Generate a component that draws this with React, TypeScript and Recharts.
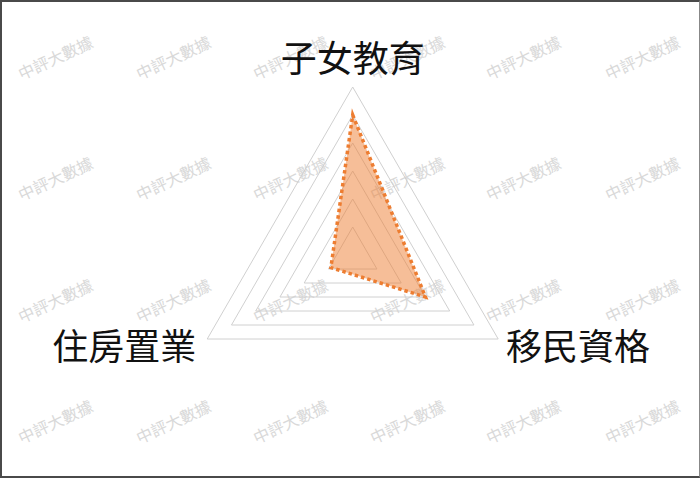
import React from 'react';
import { RadarChart, Radar, PolarGrid, PolarAngleAxis, PolarRadiusAxis } from 'recharts';

const categories = ['子女教育', '移民資格', '住房置業'];
const scores = [5, 3, 0.9];
const radiusDomain = [0, 6];
const radiusTickCount = 7;

const watermarkText = '中評大數據';
const watermarkCols = [55, 173, 290, 407, 523, 642];
const watermarkRows = [57, 178, 300, 421];

const data = categories.map((name, i) => ({ name, value: scores[i] }));

const labelFont = '"Noto Sans CJK TC", "Noto Sans CJK SC", sans-serif';

const AngleTick = (props: any) => {
  const { x, y, payload, textAnchor } = props;
  let dx = 0;
  let dy = 1;
  if (textAnchor === 'middle') dy = -23;
  if (textAnchor === 'start') dx = 1;
  if (textAnchor === 'end') dx = -4;
  return (
    <text
      x={x + dx}
      y={y + dy}
      textAnchor={textAnchor}
      dominantBaseline="central"
      fontSize={36}
      fontFamily={labelFont}
      fill="#111"
    >
      {payload.value}
    </text>
  );
};

export default function App() {
  return (
    <div
      style={{
        position: 'absolute',
        left: 0,
        top: 0,
        width: 700,
        height: 478,
        boxSizing: 'border-box',
        borderTop: '2px solid #4a4a4a',
        borderLeft: '2px solid #4a4a4a',
        borderBottom: '2px solid #4a4a4a',
        borderRight: '1px solid #888',
        background: '#fff',
        overflow: 'hidden',
      }}
    >
      {/* watermark sits under the chart, the fill is half transparent */}
      <svg width={700} height={478} style={{ position: 'absolute', left: -2, top: -2 }}>
        {watermarkRows.map((wy) =>
          watermarkCols.map((wx) => (
            <text
              key={`${wx}-${wy}`}
              x={wx}
              y={wy}
              transform={`rotate(-25 ${wx} ${wy})`}
              textAnchor="middle"
              dominantBaseline="central"
              fontSize={16}
              fontFamily={labelFont}
              fill="#d9d9d9"
            >
              {watermarkText}
            </text>
          ))
        )}
      </svg>
      <div style={{ position: 'absolute', left: -2, top: -2 }}>
        <RadarChart
          width={700}
          height={478}
          data={data}
          cx={352.7}
          cy={255}
          outerRadius={168}
          startAngle={90}
          endAngle={-270}
          margin={{ top: 0, right: 0, bottom: 0, left: 0 }}
        >
          <PolarGrid gridType="polygon" radialLines={false} stroke="#d0d0d0" strokeWidth={1} />
          <PolarRadiusAxis
            domain={radiusDomain}
            tickCount={radiusTickCount}
            axisLine={false}
            tick={false}
          />
          <PolarAngleAxis dataKey="name" axisLine={false} tickLine={false} tick={<AngleTick />} />
          <Radar
            dataKey="value"
            fill="#ED7D31"
            fillOpacity={0.5}
            stroke="#ED7D31"
            strokeWidth={3.5}
            strokeDasharray="3.5 3"
            isAnimationActive={false}
          />
        </RadarChart>
      </div>
    </div>
  );
}
